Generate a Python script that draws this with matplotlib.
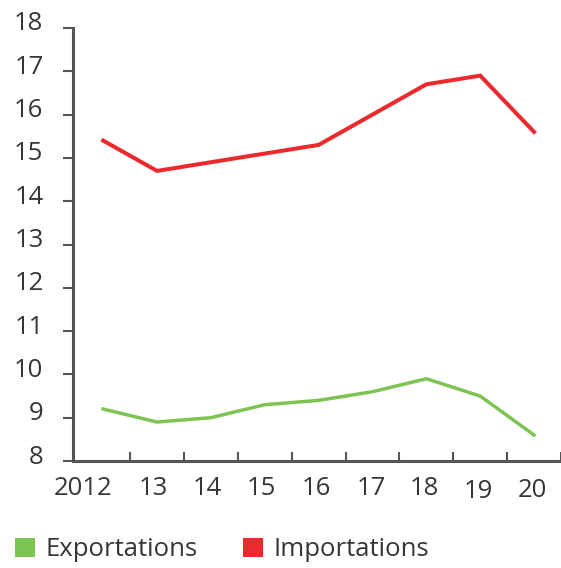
import numpy as np
import matplotlib
matplotlib.use("Agg")
import matplotlib.pyplot as plt
from matplotlib.patches import Patch
from matplotlib.transforms import ScaledTranslation

years = ['2012', '13', '14', '15', '16', '17', '18', '19', '20']
exports = [9.2, 8.9, 9.0, 9.3, 9.4, 9.6, 9.9, 9.5, 8.6]
imports = [15.4, 14.7, 14.9, 15.1, 15.3, 16.0, 16.7, 16.9, 15.6]

green = '#7dc452'
red = '#ec2a2d'
txt = '#363636'
axcol = '#555555'

plt.rcParams['font.family'] = ['Open Sans', 'DejaVu Sans']

fig = plt.figure(figsize=(5.61, 5.68), dpi=100)
ax = fig.add_axes([73/561, 107/568, 1 - 73/561, 433/568])

x = np.arange(len(years))
ax.plot(x, exports, color=green, lw=2.5, solid_joinstyle='miter')
ax.plot(x, imports, color=red, lw=2.9, solid_joinstyle='miter')

ax.set_xlim(-0.56, 8.5)
ax.set_ylim(8, 18)

for s in ['top', 'right']:
    ax.spines[s].set_visible(False)
for s in ['left', 'bottom']:
    ax.spines[s].set_color(axcol)
    ax.spines[s].set_linewidth(2.2)

# y axis
ax.set_yticks(range(8, 19))
ax.tick_params(axis='y', direction='out', length=7.2, width=1.5, color=axcol,
               pad=14, labelsize=18.5, labelcolor=txt)
for lab in ax.get_yticklabels():
    lab.set_transform(lab.get_transform() + ScaledTranslation(0, 0.07, fig.dpi_scale_trans))

# x axis: labels at points, tick marks between them
ax.set_xticks(x)
ax.set_xticklabels(years)
ax.set_xticks(x + 0.5, minor=True)
ax.tick_params(axis='x', which='major', length=0, pad=11, labelsize=18.5, labelcolor=txt)
ax.tick_params(axis='x', which='minor', direction='in', length=6.5, width=1.5, color=axcol)
shifts = [-0.20, -0.04, -0.04, -0.03, -0.02, -0.01, -0.02, -0.02, -0.02]
drops = [0, 0, 0, 0, 0, 0, 0, -0.03, -0.02]
for lab, dx, dy in zip(ax.get_xticklabels(), shifts, drops):
    lab.set_transform(lab.get_transform() + ScaledTranslation(dx, dy, fig.dpi_scale_trans))

handles = [Patch(facecolor=green, edgecolor='none'), Patch(facecolor=red, edgecolor='none')]
fig.legend(handles, ['Exportations', 'Importations'], loc='center left',
           bbox_to_anchor=(15/561, 1 - 550/568), ncol=2, frameon=False,
           fontsize=18.5, labelcolor=txt, handlelength=0.78, handleheight=0.78,
           handletextpad=0.42, columnspacing=1.75, borderpad=0, borderaxespad=0)

fig.savefig('out.png', dpi=100)
